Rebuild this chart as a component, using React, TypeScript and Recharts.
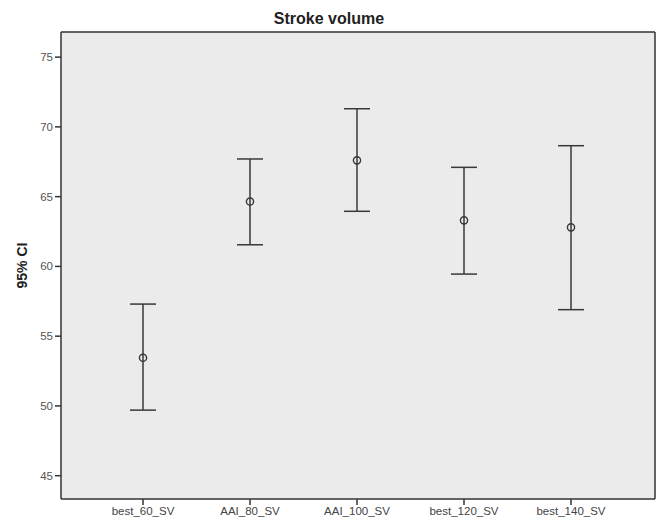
import { ComposedChart, Scatter, XAxis, YAxis, ErrorBar, CartesianGrid, Label } from 'recharts';

const categories = ['best_60_SV', 'AAI_80_SV', 'AAI_100_SV', 'best_120_SV', 'best_140_SV'];
const means = [53.45, 64.65, 67.6, 63.3, 62.8];
const lowers = [49.7, 61.55, 63.95, 59.45, 56.9];
const uppers = [57.3, 67.7, 71.3, 67.1, 68.65];
const yTicks = [45, 50, 55, 60, 65, 70, 75];

const data = categories.map((name, i) => ({
  name,
  mean: means[i],
  ci: [means[i] - lowers[i], uppers[i] - means[i]],
}));

const ink = '#383838';
const frame = { stroke: '#333', strokeWidth: 1.5 };

function HollowDot(props: any) {
  const { cx, cy } = props;
  return <circle cx={cx} cy={cy} r={3.6} fill="none" stroke={ink} strokeWidth={1.4} />;
}

export default function App() {
  return (
    <div style={{ position: 'absolute', left: 0, top: 0, width: 658, height: 520, background: '#fff', fontFamily: '"Liberation Sans", Arial, sans-serif' }}>
      <div style={{ position: 'absolute', top: 9, left: 0, width: 658, textAlign: 'center', fontSize: 16, fontWeight: 'bold', color: '#222', lineHeight: '20px' }}>
        Stroke volume
      </div>
      <ComposedChart width={658} height={520} data={data} margin={{ top: 31, right: 2, bottom: 0, left: 0 }}>
        <CartesianGrid horizontal={false} vertical={false} fill="#ebebeb" fillOpacity={1} />
        <XAxis
          dataKey="name"
          type="category"
          scale="point"
          padding={{ left: 82, right: 84 }}
          height={21}
          tickSize={6}
          tickMargin={2}
          tick={{ fontSize: 11.5, fill: '#444' }}
          axisLine={frame}
          tickLine={frame}
        />
        <XAxis xAxisId="top" orientation="top" dataKey="name" type="category" height={1} tick={false} tickLine={false} axisLine={frame} />
        <YAxis
          type="number"
          domain={[43.33, 76.8]}
          ticks={yTicks}
          width={61}
          tickSize={6}
          tickMargin={2}
          tick={{ fontSize: 11.5, fill: '#555' }}
          axisLine={frame}
          tickLine={frame}
        >
          <Label value="95% CI" angle={-90} position="insideLeft" offset={22} style={{ fontSize: 14, fontWeight: 'bold', fill: '#222', textAnchor: 'middle' }} />
        </YAxis>
        <YAxis yAxisId="right" orientation="right" type="number" domain={[43.33, 76.8]} width={1} tick={false} tickLine={false} axisLine={frame} />
        <Scatter dataKey="mean" shape={<HollowDot />} isAnimationActive={false}>
          <ErrorBar dataKey="ci" direction="y" width={13} stroke={ink} strokeWidth={1.5} />
        </Scatter>
      </ComposedChart>
    </div>
  );
}
